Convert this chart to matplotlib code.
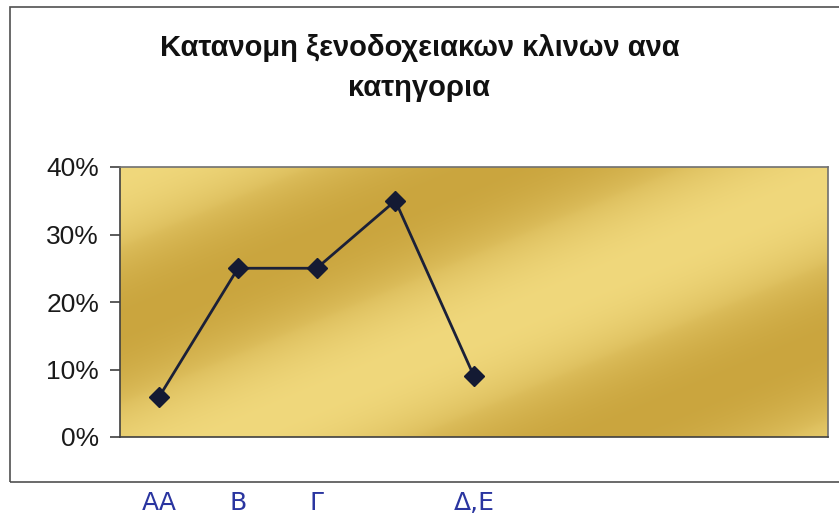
import numpy as np
import matplotlib
matplotlib.use("Agg")
import matplotlib.pyplot as plt
from matplotlib.patches import Rectangle
from matplotlib.ticker import PercentFormatter

# ---- data ----
categories = ['AA', 'B', 'Γ', '', 'Δ,E']
values = [0.06, 0.25, 0.25, 0.35, 0.09]
n_slots = 9
yticks = [0.0, 0.1, 0.2, 0.3, 0.4]
title = "Κατανομη ξενοδοχειακων κλινων ανα\nκατηγορια"

plt.rcParams['font.family'] = ['Liberation Sans', 'DejaVu Sans']

W, H = 839, 521
fig = plt.figure(figsize=(W / 100, H / 100), dpi=100)
fig.patch.set_facecolor('white')

# outer chart border
fig.patches.append(Rectangle((10 / W, 1 - 482 / H), 1.2, (482 - 7) / H,
                             transform=fig.transFigure, fill=False,
                             edgecolor='#505050', linewidth=1.2))

ax = fig.add_axes([120 / W, 1 - 437 / H, (828 - 120) / W, (437 - 167) / H])

x = np.arange(len(values))
ax.set_xlim(-0.5, n_slots - 0.5)
ax.set_ylim(0, 0.4)

# gold gradient background
pw, ph = 712, 270
gx, gy = np.meshgrid(np.linspace(0, pw, 360), np.linspace(0, ph, 140))
u = 0.42 * gx + gy
t = (np.cos(2 * np.pi * u / 316.0) + 1) / 2  # 1 light, 0 dark
t = 0.5 + 0.5 * np.sign(t - 0.5) * np.abs(2 * t - 1) ** 0.8
light = np.array([240, 216, 124]) / 255
dark = np.array([202, 165, 62]) / 255
img = dark[None, None, :] + (light - dark)[None, None, :] * t[..., None]
ax.imshow(img, extent=[-0.5, n_slots - 0.5, 0, 0.4], origin='upper',
          aspect='auto', zorder=0, interpolation='bilinear')

ax.plot(x, values, color='#1b2038', linewidth=2.0, marker='D',
        markersize=10, markerfacecolor='#141a33', markeredgecolor='#141a33',
        zorder=3)

for s in ax.spines.values():
    s.set_color('#707070')
    s.set_linewidth(1.2)
ax.spines['left'].set_color('#404040')
ax.spines['bottom'].set_color('#404040')

ax.set_yticks(yticks)
ax.yaxis.set_major_formatter(PercentFormatter(1.0, decimals=0))
ax.tick_params(axis='y', length=7, width=1.2, color='#404040',
               labelsize=19, pad=8, labelcolor='#1a1a1a')

ax.set_xticks(x)
ax.set_xticklabels(categories, family=['DejaVu Sans'], fontsize=18,
                   color='#2a35a0')
ax.tick_params(axis='x', length=0, pad=39)

fig.text(0.5, 1 - 68 / H, title, ha='center', va='center',
         fontsize=21, fontweight='bold', color='#111111', linespacing=1.55)

fig.savefig('out.png', dpi=100)
